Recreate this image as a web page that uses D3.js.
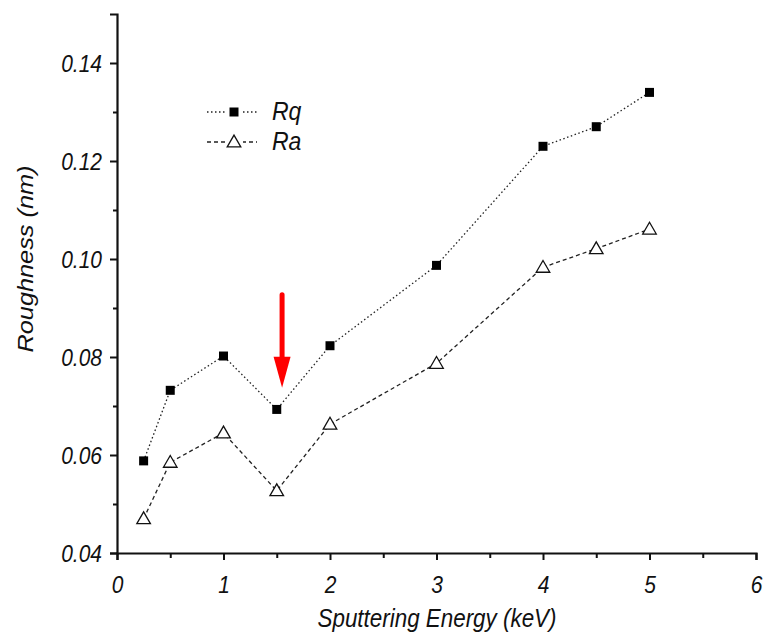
<!DOCTYPE html>
<html>
<head>
<meta charset="utf-8">
<script src="https://cdn.jsdelivr.net/npm/d3@7"></script>
<style>
  body { margin: 0; background: #fff; }
  text { font-family: "Liberation Sans", Arial, sans-serif; font-style: italic; fill: #111; }
</style>
</head>
<body>
<div id="chart"></div>
<script>
// sputtering energy (keV)
var energy = [0.25, 0.5, 1, 1.5, 2, 3, 4, 4.5, 5];
var rq = [0.0588, 0.0732, 0.0802, 0.0693, 0.0823, 0.0987, 0.123, 0.127, 0.134];
var ra = [0.047, 0.0585, 0.0645, 0.0527, 0.0663, 0.0787, 0.0983, 0.1021, 0.1061];
var xTicks = [0, 1, 2, 3, 4, 5, 6];
var yTicks = [0.04, 0.06, 0.08, 0.10, 0.12, 0.14];
var arrowAt = {x: 1.55, from: 0.0927, to: 0.0737};

var width = 766, height = 635;
var stretch = 1.13; // the original picture's text is a bit taller than wide

var svg = d3.select("#chart").append("svg")
	.attr("width", width)
	.attr("height", height);

var x = d3.scaleLinear().domain([0, 6]).range([117, 756]);
var y = d3.scaleLinear().domain([0.04, 0.15]).range([553, 14]);

// axes
var xAxis = svg.append("g")
	.attr("transform", "translate(0,553)")
	.call(d3.axisBottom(x).tickValues(xTicks).tickSize(7).tickFormat(d3.format("d")));
svg.append("g")
	.attr("transform", "translate(0,553)")
	.call(d3.axisBottom(x).tickValues(d3.range(0.5, 6, 1)).tickSize(5).tickFormat(""))
	.select(".domain").remove();

var yAxis = svg.append("g")
	.attr("transform", "translate(117,0)")
	.call(d3.axisLeft(y).tickValues(yTicks).tickSize(7).tickFormat(d3.format(".2f")));
svg.append("g")
	.attr("transform", "translate(117,0)")
	.call(d3.axisLeft(y).tickValues([0.05, 0.07, 0.09, 0.11, 0.13]).tickSize(4).tickFormat(""))
	.select(".domain").remove();

svg.selectAll(".domain")
	.attr("stroke", "#111")
	.attr("stroke-width", 2.2);
svg.selectAll(".tick line")
	.attr("stroke", "#111")
	.attr("stroke-width", 2);
svg.selectAll(".tick text")
	.style("font-size", "21px")
	.style("font-family", "'Liberation Sans', Arial, sans-serif")
	.style("font-style", "italic")
	.attr("fill", "#111");
xAxis.selectAll(".tick text")
	.attr("y", 0).attr("dy", 0)
	.attr("transform", "translate(0,40) scale(1," + stretch + ")");
yAxis.selectAll(".tick text")
	.attr("x", -15).attr("dy", 0)
	.attr("transform", "translate(0,8) scale(1," + stretch + ")");

// axis titles
svg.append("text")
	.attr("transform", "translate(437,627) scale(1," + stretch + ")")
	.attr("text-anchor", "middle")
	.style("font-size", "22.4px")
	.text("Sputtering Energy (keV)");
svg.append("text")
	.attr("transform", "translate(33,259) scale(1," + stretch + ") rotate(-90)")
	.attr("text-anchor", "middle")
	.style("font-size", "22.4px")
	.text("Roughness (nm)");

var line = d3.line()
	.x(function(d){ return x(d[0]); })
	.y(function(d){ return y(d[1]); });

var rqData = d3.zip(energy, rq);
var raData = d3.zip(energy, ra);

svg.append("path")
	.datum(rqData)
	.attr("d", line)
	.attr("fill", "none")
	.attr("stroke", "#222")
	.attr("stroke-width", 1.3)
	.attr("stroke-dasharray", "1.5,2.5");

svg.append("path")
	.datum(raData)
	.attr("d", line)
	.attr("fill", "none")
	.attr("stroke", "#222")
	.attr("stroke-width", 1.3)
	.attr("stroke-dasharray", "4,3");

var square = d3.symbol().type(d3.symbolSquare).size(81);
var triangle = d3.symbol().type(d3.symbolTriangle).size(80);

svg.selectAll(".rq")
	.data(rqData)
	.enter()
	.append("path")
	.attr("class", "rq")
	.attr("d", square)
	.attr("transform", function(d){ return "translate(" + x(d[0]) + "," + y(d[1]) + ")"; })
	.attr("fill", "#000");

svg.selectAll(".ra")
	.data(raData)
	.enter()
	.append("path")
	.attr("class", "ra")
	.attr("d", triangle)
	.attr("transform", function(d){ return "translate(" + x(d[0]) + "," + (y(d[1]) + 1) + ")"; })
	.attr("fill", "#fff")
	.attr("stroke", "#111")
	.attr("stroke-width", 1.3);

// red arrow
var ax = x(arrowAt.x), ay0 = y(arrowAt.from), ay1 = y(arrowAt.to);
svg.append("line")
	.attr("x1", ax).attr("x2", ax)
	.attr("y1", ay0).attr("y2", ay1 - 28)
	.attr("stroke", "#f00")
	.attr("stroke-width", 5)
	.attr("stroke-linecap", "round");
svg.append("path")
	.attr("d", "M" + (ax - 8.5) + "," + (ay1 - 31) + "L" + (ax + 8.5) + "," + (ay1 - 31) + "L" + ax + "," + ay1 + "Z")
	.attr("fill", "#f00");

// legend
var legend = svg.append("g").attr("transform", "translate(207,112)");
var items = [{label: "Rq", dash: "1.5,2.5", sym: square, fill: "#000"},
	{label: "Ra", dash: "4,3", sym: triangle, fill: "#fff"}];
items.forEach(function(it, i){
	var g = legend.append("g").attr("transform", "translate(0," + (i * 30) + ")");
	g.append("line")
		.attr("x1", 0).attr("x2", 50)
		.attr("stroke", "#222")
		.attr("stroke-width", 1.3)
		.attr("stroke-dasharray", it.dash);
	g.append("rect")
		.attr("x", 20).attr("y", -6).attr("width", 16).attr("height", 12)
		.attr("fill", "#fff");
	g.append("path")
		.attr("d", it.sym)
		.attr("transform", "translate(27," + (i ? 1 : 0) + ")")
		.attr("fill", it.fill)
		.attr("stroke", i ? "#111" : "none")
		.attr("stroke-width", 1.3);
	g.append("text")
		.attr("transform", "translate(65,8) scale(1," + stretch + ")")
		.style("font-size", "23px")
		.text(it.label);
});
</script>
</body>
</html>
